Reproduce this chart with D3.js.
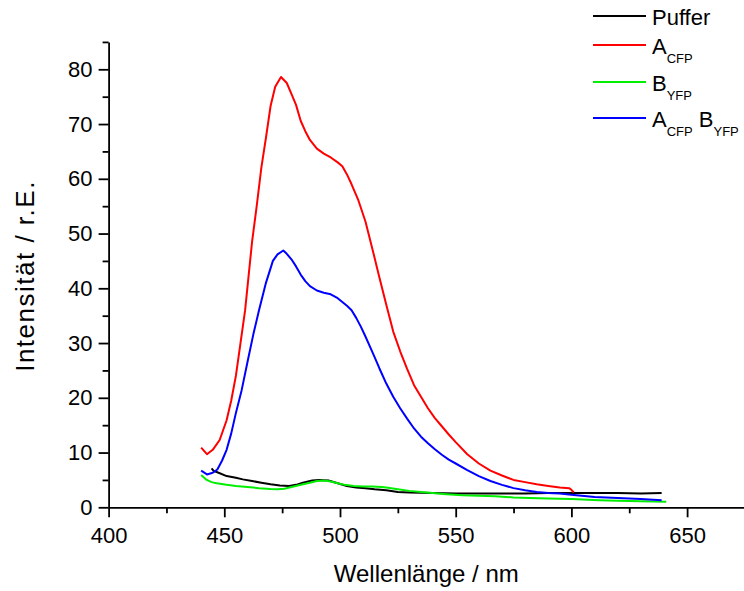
<!DOCTYPE html>
<html>
<head>
<meta charset="utf-8">
<script src="https://cdn.jsdelivr.net/npm/d3@7"></script>
<style>
  html, body { margin: 0; padding: 0; background: #fff; }
  svg { display: block; font-family: "Liberation Sans", Arial, sans-serif; }
</style>
</head>
<body>
<svg id="chart" width="744" height="591"></svg>
<script>
// ---------- data ----------
const pufferNm  = [444.5,445.5,447,451,455,458,462,466,470,474,478,481,484,488,491,495,499,503,507,511,515,520,525,530,540,550,560,570,580,590,600,610,620,630,639];
const pufferVal = [7.1,6.6,6.4,5.7,5.4,5.1,4.8,4.5,4.2,4.0,3.9,4.1,4.5,4.9,5.0,4.9,4.4,3.9,3.6,3.5,3.3,3.1,2.8,2.7,2.6,2.5,2.5,2.5,2.5,2.6,2.6,2.6,2.6,2.5,2.6];

const acfpNm  = [440,442.5,445,448,451,453,455,457,459,462,464,466,468,470,472,474.5,477,479,481,483,485,487,490,493,496,499,501,503,505,508,511,514,517,520,523,526,529,532,535,538,541,544,547,550,555,560,565,570,575,580,585,590,595,599,600,601];
const acfpVal = [10.9,9.7,10.5,12.3,15.9,19.5,24,30,36,48.5,55,62,67.5,73.3,76.8,78.6,77.5,75.5,73.5,70.6,68.7,67.1,65.5,64.6,63.9,63.0,62.3,60.8,59,56,52.2,47.2,42,37,32.1,28.5,25.3,22.3,20.2,18.1,16.3,14.8,13.3,11.9,9.7,8.0,6.7,5.8,5.0,4.6,4.2,3.9,3.6,3.5,3.2,2.7];

const byfpNm  = [440,442.4,444.5,446.7,451,455,460,465,470,473,476,480,484,487,490,493,496,499,502,506,510,514,518,520,525,530,535,540,546,553,560,567,575,582,590,600,612,620,630,641];
const byfpVal = [5.9,5.0,4.6,4.4,4.1,3.9,3.7,3.5,3.35,3.3,3.4,3.8,4.2,4.5,4.8,4.9,4.7,4.4,4.1,3.9,3.8,3.8,3.7,3.6,3.3,3.0,2.8,2.6,2.4,2.2,2.1,2.0,1.8,1.7,1.6,1.5,1.3,1.2,1.1,1.0];

const bothNm  = [440,442.5,445,447,449,451,453,455,457.5,460,462.5,465,468,471,473,475.5,477,479,481,483,485,487,490,493,496,499,501,503,505,507,509,511,513,515,517,520,523,526,529,532,535,538,541,544,547,550,555,560,565,570,575,580,585,590,595,600,610,620,630,639];
const bothVal = [6.7,6.0,6.3,6.9,8.5,10.5,13.5,17.2,21.4,26.5,31.5,36,41,45,46.2,46.9,46.3,45.3,44,42.5,41.3,40.4,39.6,39.2,38.9,38.2,37.5,36.8,36.0,34.6,33.0,31.2,29.3,27.4,25.4,22.6,20.2,18.1,16.2,14.4,12.9,11.7,10.6,9.6,8.7,8.0,6.8,5.7,4.8,4.1,3.5,3.1,2.8,2.6,2.5,2.3,1.9,1.7,1.5,1.3];

const seriesNames  = ["Puffer", "A", "B", "A"];
const seriesSubs   = [null, "CFP", "YFP", "CFP"];
const seriesExtra  = [null, null, null, {main: "B", sub: "YFP"}];
const seriesColors = ["#000000", "#ff0000", "#00ee00", "#0000ff"];

const xMajor = [400, 450, 500, 550, 600, 650];
const xMinor = [425, 475, 525, 575, 625];
const yMajor = [0, 10, 20, 30, 40, 50, 60, 70, 80];
const yMinor = [5, 15, 25, 35, 45, 55, 65, 75, 85];

const xTitle = "Wellenlänge / nm";
const yTitle = "Intensität / r.E.";

// ---------- chart ----------
const svg = d3.select("#chart");
svg.append("rect").attr("width", 744).attr("height", 591).attr("fill", "#fff");

const x = d3.scaleLinear().domain([400, 675]).range([108.6, 108.6 + 275 * 2.314]);
const y = d3.scaleLinear().domain([0, 85]).range([507.3, 507.3 - 85 * 5.475]);

const series = [
  {nm: pufferNm, val: pufferVal},
  {nm: acfpNm, val: acfpVal},
  {nm: byfpNm, val: byfpVal},
  {nm: bothNm, val: bothVal}
];

const line = d3.line().x(d => x(d[0])).y(d => y(d[1]));
series.forEach((s, i) => {
  const pts = s.nm.map((n, k) => [n, s.val[k]]);
  svg.append("path")
    .datum(pts)
    .attr("fill", "none")
    .attr("stroke", seriesColors[i])
    .attr("stroke-width", 2)
    .attr("stroke-linejoin", "round")
    .attr("d", line);
});

// axes
const axisStyle = g => {
  g.selectAll("path, line").attr("stroke", "#000").attr("stroke-width", 1.8);
  g.selectAll("text").attr("fill", "#000").style("font-size", "22px")
    .style("font-family", "'Liberation Sans', Arial, sans-serif");
};

svg.append("g").attr("transform", `translate(0,${y(0)})`)
  .call(d3.axisBottom(x).tickValues(xMajor).tickSize(10).tickPadding(10).tickSizeOuter(0).tickFormat(d3.format("d")))
  .call(axisStyle);
svg.append("g").attr("transform", `translate(0,${y(0)})`)
  .call(d3.axisBottom(x).tickValues(xMinor).tickSize(6).tickSizeOuter(0).tickFormat(""))
  .call(g => g.select(".domain").remove())
  .call(axisStyle);

svg.append("g").attr("transform", `translate(${x(400)},0)`)
  .call(d3.axisLeft(y).tickValues(yMajor).tickSize(10).tickPadding(6).tickSizeOuter(0).tickFormat(d3.format("d")))
  .call(axisStyle);
svg.append("g").attr("transform", `translate(${x(400)},0)`)
  .call(d3.axisLeft(y).tickValues(yMinor).tickSize(6).tickSizeOuter(0).tickFormat(""))
  .call(g => g.select(".domain").remove())
  .call(axisStyle);

// axis titles
svg.append("text")
  .attr("x", (x(400) + 744) / 2).attr("y", 582)
  .attr("text-anchor", "middle")
  .style("font-size", "24px")
  .text(xTitle);

svg.append("text")
  .attr("transform", `translate(34,276) rotate(-90)`)
  .attr("text-anchor", "middle")
  .style("font-size", "26px")
  .style("letter-spacing", "1.5px")
  .text(yTitle);

// legend
const legY = [16, 45, 82, 118];
series.forEach((s, i) => {
  const g = svg.append("g").attr("transform", `translate(0,${legY[i]})`);
  g.append("line").attr("x1", 593).attr("x2", 646).attr("y1", 0).attr("y2", 0)
    .attr("stroke", seriesColors[i]).attr("stroke-width", 2);
  const t = g.append("text").attr("x", 652).attr("y", 9).style("font-size", "22px");
  t.append("tspan").text(seriesNames[i]);
  if (seriesSubs[i]) {
    t.append("tspan").attr("dy", 9).style("font-size", "13px").text(seriesSubs[i]);
    if (seriesExtra[i]) {
      t.append("tspan").attr("dy", -9).style("font-size", "22px").text("\u00a0" + seriesExtra[i].main);
      t.append("tspan").attr("dy", 9).style("font-size", "13px").text(seriesExtra[i].sub);
    }
  }
});
</script>
</body>
</html>
